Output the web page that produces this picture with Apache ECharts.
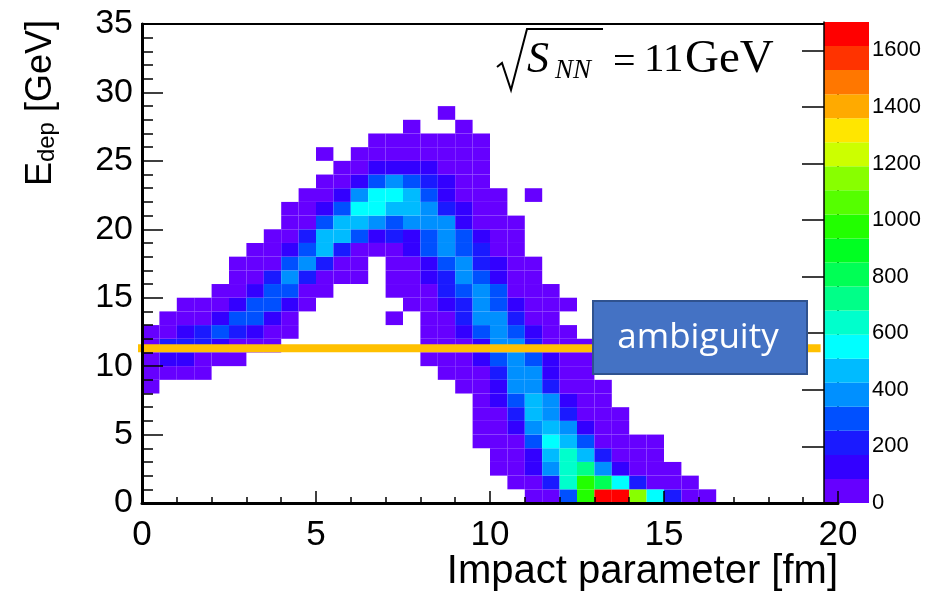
<!DOCTYPE html>
<html><head><meta charset="utf-8">
<script src="https://cdn.jsdelivr.net/npm/echarts@6/dist/echarts.min.js"></script>
<style>html,body{margin:0;padding:0;background:#fff}#c{width:944px;height:592px}</style>
</head><body><div id="c"></div>
<script>
// x bins: 0.5 fm wide, y bins: 1 GeV high
const xBinStart = [0,0.5,1,1.5,2,2.5,3,3.5,4,4.5,5,5.5,6,6.5,7,7.5,8,8.5,9,9.5,10,10.5,11,11.5,12,12.5,13,13.5,14,14.5,15,15.5,16];
const yBinStart = [0,1,2,3,4,5,6,7,8,9,10,11,12,13,14,15,16,17,18,19,20,21,22,23,24,25,26,27,28];
const xBinWidth = 0.5;
const yBinHeight = 1;
// counts[row j][col c]
const counts = [
[0,0,0,0,0,0,0,0,0,0, 0,0,0,0,0,0,0,0,0,0, 0,0,45,45,295,975,1650,1690,1150,550, 210,45,45],
[0,0,0,0,0,0,0,0,0,0, 0,0,0,0,0,0,0,0,0,0, 0,45,45,210,630,960,805,550,210,45, 45,45,0],
[0,0,0,0,0,0,0,0,0,0, 0,0,0,0,0,0,0,0,0,0, 45,45,125,380,630,720,380,125,45,45, 45,0,0],
[0,0,0,0,0,0,0,0,0,0, 0,0,0,0,0,0,0,0,0,0, 45,45,125,465,630,465,210,45,45,45, 0,0,0],
[0,0,0,0,0,0,0,0,0,0, 0,0,0,0,0,0,0,0,0,45, 45,45,295,550,465,295,45,45,45,45, 0,0,0],
[0,0,0,0,0,0,0,0,0,0, 0,0,0,0,0,0,0,0,0,45, 45,125,380,465,380,125,45,45,0,0, 0,0,0],
[0,0,0,0,0,0,0,0,0,0, 0,0,0,0,0,0,0,0,0,45, 45,210,465,380,210,45,45,45,0,0, 0,0,0],
[0,0,0,0,0,0,0,0,0,0, 0,0,0,0,0,0,0,0,0,45, 125,295,465,380,125,45,45,0,0,0, 0,0,0],
[45,0,0,0,0,0,0,0,0,0, 0,0,0,0,0,0,0,0,45,45, 125,380,380,210,45,45,45,0,0,0, 0,0,0],
[45,45,45,45,0,0,0,0,0,0, 0,0,0,0,0,0,0,45,45,45, 210,380,380,125,45,45,0,0,0,0, 0,0,0],
[45,125,125,45,45,45,0,0,0,0, 0,0,0,0,0,0,45,45,45,125, 295,380,295,125,45,45,0,0,0,0, 0,0,0],
[45,210,210,210,125,45,45,45,0,0, 0,0,0,0,0,0,45,45,45,125, 380,380,210,45,45,45,0,0,0,0, 0,0,0],
[45,45,125,210,295,210,125,45,45,0, 0,0,0,0,0,0,45,45,125,295, 380,295,125,45,45,0,0,0,0,0, 0,0,0],
[0,45,45,45,125,295,295,125,45,0, 0,0,0,0,45,0,45,45,210,380, 380,210,45,45,0,0,0,0,0,0, 0,0,0],
[0,0,45,45,45,125,295,295,125,45, 0,0,0,0,0,45,45,125,210,380, 295,125,45,45,45,0,0,0,0,0, 0,0,0],
[0,0,0,0,45,45,125,295,295,45, 45,0,0,0,45,45,45,210,295,380, 295,45,45,45,0,0,0,0,0,0, 0,0,0],
[0,0,0,0,0,45,45,210,380,210, 45,45,45,0,45,45,125,210,380,295, 125,45,45,0,0,0,0,0,0,0, 0,0,0],
[0,0,0,0,0,45,45,45,295,380, 210,45,45,0,45,45,125,295,380,210, 125,45,45,0,0,0,0,0,0,0, 0,0,0],
[0,0,0,0,0,0,45,45,125,295, 465,210,45,45,45,125,295,380,295,210, 45,45,0,0,0,0,0,0,0,0, 0,0,0],
[0,0,0,0,0,0,0,45,45,210, 465,465,295,125,210,125,295,380,295,125, 45,45,0,0,0,0,0,0,0,0, 0,0,0],
[0,0,0,0,0,0,0,0,45,45, 295,465,465,380,295,380,380,380,125,45, 45,45,0,0,0,0,0,0,0,0, 0,0,0],
[0,0,0,0,0,0,0,0,45,45, 125,295,550,550,465,465,380,210,125,45, 45,0,0,0,0,0,0,0,0,0, 0,0,0],
[0,0,0,0,0,0,0,0,0,45, 45,125,380,550,550,465,295,125,45,45, 45,0,45,0,0,0,0,0,0,0, 0,0,0],
[0,0,0,0,0,0,0,0,0,0, 45,45,125,295,380,295,210,125,45,45, 0,0,0,0,0,0,0,0,0,0, 0,0,0],
[0,0,0,0,0,0,0,0,0,0, 0,45,45,125,125,125,125,45,45,45, 0,0,0,0,0,0,0,0,0,0, 0,0,0],
[0,0,0,0,0,0,0,0,0,0, 45,0,45,45,45,45,45,45,45,45, 0,0,0,0,0,0,0,0,0,0, 0,0,0],
[0,0,0,0,0,0,0,0,0,0, 0,0,0,45,45,45,45,45,45,45, 0,0,0,0,0,0,0,0,0,0, 0,0,0],
[0,0,0,0,0,0,0,0,0,0, 0,0,0,0,0,45,0,0,45,0, 0,0,0,0,0,0,0,0,0,0, 0,0,0],
[0,0,0,0,0,0,0,0,0,0, 0,0,0,0,0,0,0,45,0,0, 0,0,0,0,0,0,0,0,0,0, 0,0,0]
];
const paletteEdges = [0,85,170,255,340,425,510,595,680,765,850,935,1020,1105,1190,1275,1360,1445,1530,1615,1700];
const paletteColors = ['#6600ff','#3300ff','#1a1aff','#0050ff','#0090ff','#00bbff','#00ffff','#00ffcc','#00ff88','#00ff55',
                       '#00ff22','#22ff00','#55ff00','#88ff00','#ccff00','#ffe600','#ffaa00','#ff7700','#ff3300','#ff0000'];
const ambiguityLevel = 11.3;
const ambiguityRange = [-0.17, 19.5];
const xTitle = 'Impact parameter [fm]';

const cells = [];
counts.forEach((row, j) => row.forEach((v, c) => { if (v > 0) cells.push([xBinStart[c], yBinStart[j], v]); }));
const bands = paletteColors.map((col, i) => [i, paletteEdges[i], paletteEdges[i + 1]]);

const SANS = 'Liberation Sans';
const chart = echarts.init(document.getElementById('c'), null, {renderer: 'canvas'});
chart.setOption({
  animation: false,
  backgroundColor: '#fff',
  grid: [
    {left: 142, right: 106, top: 24, bottom: 89, show: true, borderColor: '#000', borderWidth: 2, backgroundColor: 'transparent', containLabel: false, outerBoundsMode: 'none'},
    {left: 824, width: 45, top: 22, bottom: 89, containLabel: false, outerBoundsMode: 'none'}
  ],
  visualMap: {
    type: 'piecewise', show: false, seriesIndex: 0, dimension: 2,
    pieces: bands.map(b => ({gte: b[1], lt: b[2], color: paletteColors[b[0]]}))
  },
  xAxis: [
    {gridIndex: 0, type: 'value', min: 0, max: 20, interval: 5, z: 10,
     axisLine: {show: true, onZero: false, lineStyle: {color: '#000', width: 3}},
     axisTick: {show: true, inside: true, length: 12, lineStyle: {color: '#000', width: 1.5}},
     minorTick: {show: true, splitNumber: 5, length: 6, lineStyle: {color: '#000', width: 1.5}},
     splitLine: {show: false}, minorSplitLine: {show: false},
     axisLabel: {fontSize: 35, color: '#000', fontFamily: SANS, margin: 15}
    },
    {gridIndex: 1, type: 'value', min: 0, max: 1, show: false}
  ],
  yAxis: [
    {gridIndex: 0, type: 'value', min: 0, max: 35, interval: 5, z: 10,
     axisLine: {show: true, onZero: false, lineStyle: {color: '#000', width: 3}},
     axisTick: {show: true, inside: true, length: 21, lineStyle: {color: '#000', width: 1.5}},
     minorTick: {show: true, splitNumber: 5, length: 11, lineStyle: {color: '#000', width: 1.5}},
     splitLine: {show: false}, minorSplitLine: {show: false},
     axisLabel: {fontSize: 34, color: '#000', fontFamily: SANS, margin: 9}
    },
    {gridIndex: 1, type: 'value', min: 0, max: 1700, interval: 200, position: 'right', z: 10,
     axisLine: {show: true, lineStyle: {color: '#000', width: 1.5}},
     axisTick: {show: true, inside: true, length: 22, lineStyle: {color: '#000', width: 1.5}},
     splitLine: {show: false},
     axisLabel: {fontSize: 22, color: '#000', fontFamily: SANS, margin: 3, showMaxLabel: false,
                 formatter: function (v) { return String(v); }}
    }
  ],
  series: [
    {type: 'custom', xAxisIndex: 0, yAxisIndex: 0, data: cells, encode: {x: 0, y: 1}, z: 2, silent: true,
     renderItem: function (params, api) {
       const x = api.value(0), y = api.value(1);
       const p0 = api.coord([x, y + yBinHeight]);
       const p1 = api.coord([x + xBinWidth, y]);
       return {type: 'rect', shape: {x: p0[0], y: p0[1], width: p1[0] - p0[0], height: p1[1] - p0[1]},
               style: {fill: api.visual('color'), stroke: null}};
     }},
    {type: 'custom', xAxisIndex: 1, yAxisIndex: 1, data: bands, encode: {y: [1, 2]}, z: 2, silent: true,
     renderItem: function (params, api) {
       const i = api.value(0);
       const p0 = api.coord([0, api.value(2)]);
       const p1 = api.coord([1, api.value(1)]);
       return {type: 'rect', shape: {x: p0[0], y: p0[1], width: p1[0] - p0[0], height: p1[1] - p0[1]},
               style: {fill: paletteColors[i]}};
     }},
    {type: 'line', xAxisIndex: 0, yAxisIndex: 0, symbol: 'none', clip: false, silent: true, z: 5,
     data: [[ambiguityRange[0], ambiguityLevel], [ambiguityRange[1], ambiguityLevel]],
     lineStyle: {color: '#ffc000', width: 8, cap: 'butt'}}
  ],
  graphic: [
    {type: 'text', x: 838, y: 572, z: 20,
     style: {text: xTitle, font: '40px "Liberation Sans"', fill: '#000', align: 'right', verticalAlign: 'middle'}},
    {type: 'text', x: 41, y: 20, rotation: Math.PI / 2, z: 20,
     style: {text: '{m|E}{s|dep}{m| [GeV]}', align: 'right', verticalAlign: 'middle',
       rich: {m: {fontSize: 36, fontFamily: SANS, fill: '#000', lineHeight: 36},
              s: {fontSize: 24, fontFamily: SANS, fill: '#000', lineHeight: 12, verticalAlign: 'bottom'}}}},
    {type: 'polyline', z: 20, shape: {points: [[497, 67], [502, 63], [511, 90], [527, 29], [603, 29]]},
     style: {stroke: '#000', lineWidth: 2, fill: null}},
    {type: 'text', x: 527, y: 60, z: 20, style: {text: 'S', font: 'italic 44px "Liberation Serif"', fill: '#000', verticalAlign: 'middle'}},
    {type: 'text', x: 555, y: 71, z: 20, style: {text: 'NN', font: 'italic 27px "Liberation Serif"', fill: '#000', verticalAlign: 'middle'}},
    {type: 'text', x: 613, y: 63, z: 20, style: {text: '=', font: '40px "Liberation Serif"', fill: '#000', verticalAlign: 'middle'}},
    {type: 'text', x: 644, y: 60, z: 20, style: {text: '11', font: '41px "Liberation Serif"', fill: '#000', verticalAlign: 'middle'}},
    {type: 'text', x: 685, y: 60, z: 20, style: {text: 'GeV', font: '47px "Liberation Serif"', fill: '#000', verticalAlign: 'middle'}},
    {type: 'rect', z: 30, shape: {x: 593, y: 301, width: 214, height: 73}, style: {fill: '#4472c4', stroke: '#2f528f', lineWidth: 2}},
    {type: 'text', z: 31, x: 698, y: 338, style: {text: 'ambiguity', font: '35px "Open Sans"', fill: '#fff', align: 'center', verticalAlign: 'middle'}}
  ]
});
</script></body></html>
